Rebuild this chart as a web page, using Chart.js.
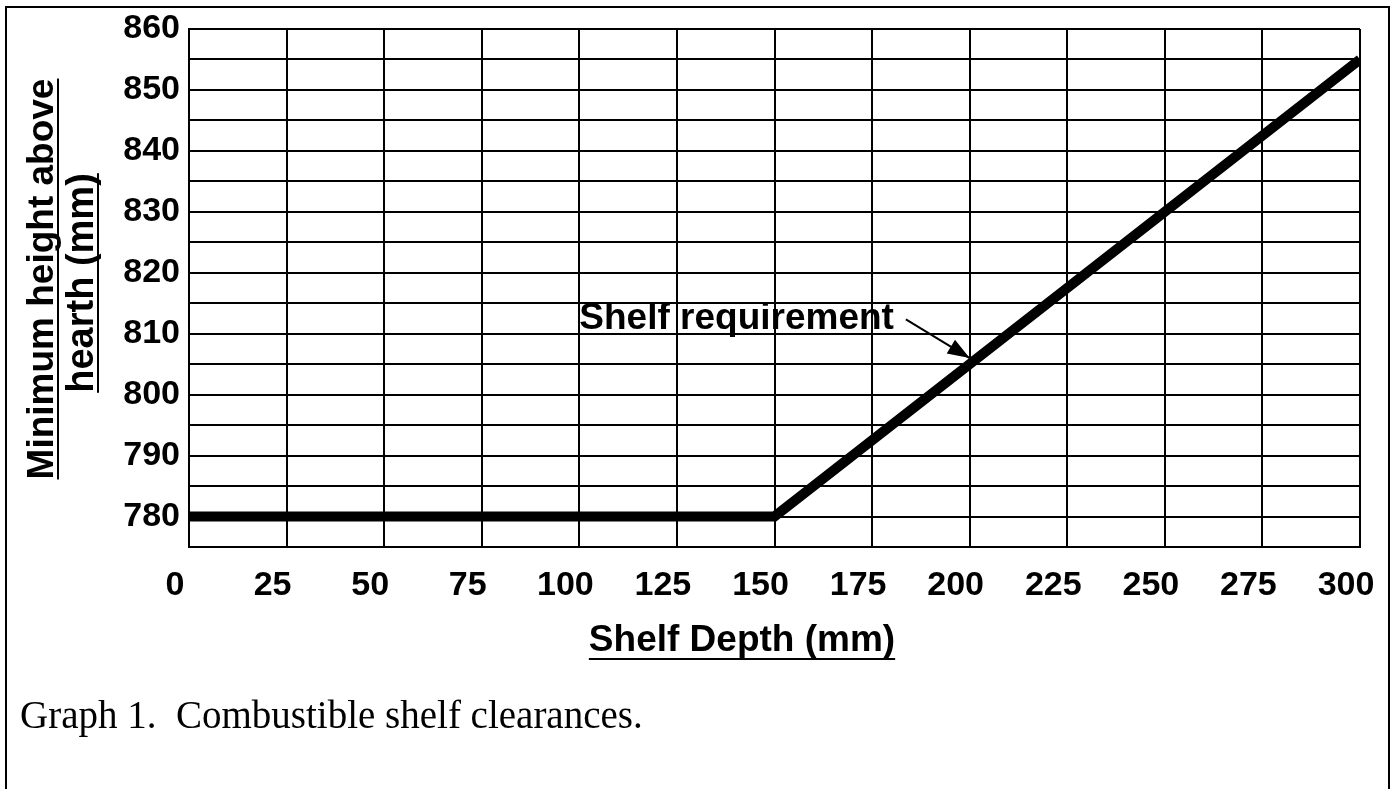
<!DOCTYPE html>
<html>
<head>
<meta charset="utf-8">
<title>Combustible shelf clearances</title>
<script src="https://cdn.jsdelivr.net/npm/chart.js@4.4.1/dist/chart.umd.min.js"></script>
<style>
  html, body { margin: 0; padding: 0; background: #fff; }
  #wrap { width: 1394px; height: 789px; position: relative; }
</style>
</head>
<body>
<div id="wrap"><canvas id="grafico"></canvas></div>
<script>
// datos
const shelfDepth = [0, 150, 300];        // mm
const minHeight  = [780, 780, 855];      // mm
const xTicks = [0, 25, 50, 75, 100, 125, 150, 175, 200, 225, 250, 275, 300];
const yLabels = [780, 790, 800, 810, 820, 830, 840, 850, 860];

const xTitle = 'Shelf Depth (mm)';
const yTitle = ['Minimum height above', 'hearth (mm)'];
const caption = 'Graph 1.  Combustible shelf clearances.';
const noteText = 'Shelf requirement';
const noteAt = { x: 100, y: 810.7 };     // inicio del texto
const arrowTip = { x: 200, y: 806 };     // punta de la flecha

const SANS = '"Liberation Sans", Arial, sans-serif';
const SERIF = '"Liberation Serif", "Times New Roman", serif';

// ========== textos, flecha y marco ==========
const extras = {
    id: 'extras',
    afterDraw(chart) {
        const ctx = chart.ctx;
        const xs = chart.scales.x, ys = chart.scales.y;
        ctx.save();
        ctx.fillStyle = '#000';
        ctx.strokeStyle = '#000';

        // marco exterior
        ctx.lineWidth = 2;
        ctx.beginPath();
        ctx.moveTo(6, 800);
        ctx.lineTo(6, 7);
        ctx.lineTo(1389, 7);
        ctx.lineTo(1389, 800);
        ctx.stroke();

        // título eje x (subrayado)
        ctx.font = 'bold 37px ' + SANS;
        ctx.textAlign = 'center';
        ctx.textBaseline = 'alphabetic';
        const cx = 742;
        ctx.fillText(xTitle, cx, 651);
        let w = ctx.measureText(xTitle).width;
        ctx.fillRect(cx - w / 2, 658, w, 2);

        // título eje y (dos líneas, girado)
        const lines = [{ x: 53, y: 279 }, { x: 93, y: 283 }];
        const sizes = [37, 38];
        yTitle.forEach((t, i) => {
            ctx.save();
            ctx.font = 'bold ' + sizes[i] + 'px ' + SANS;
            ctx.translate(lines[i].x, lines[i].y);
            ctx.rotate(-Math.PI / 2);
            ctx.fillText(t, 0, 0);
            const tw = ctx.measureText(t).width;
            ctx.fillRect(-tw / 2, 4, tw, 2);
            ctx.restore();
        });

        // anotación
        ctx.font = 'bold 37px ' + SANS;
        ctx.textAlign = 'left';
        const tx = xs.getPixelForValue(noteAt.x);
        const ty = ys.getPixelForValue(noteAt.y);
        ctx.fillText(noteText, tx, ty);
        const endX = tx + ctx.measureText(noteText).width + 12;
        const startY = ty - 10;
        const px = xs.getPixelForValue(arrowTip.x);
        const py = ys.getPixelForValue(arrowTip.y);
        ctx.lineWidth = 2;
        ctx.beginPath();
        ctx.moveTo(endX, startY);
        ctx.lineTo(px, py);
        ctx.stroke();
        const ang = Math.atan2(py - startY, px - endX);
        const hl = 22, hw = 8;
        ctx.beginPath();
        ctx.moveTo(px, py);
        ctx.lineTo(px - hl * Math.cos(ang) + hw * Math.sin(ang), py - hl * Math.sin(ang) - hw * Math.cos(ang));
        ctx.lineTo(px - hl * Math.cos(ang) - hw * Math.sin(ang), py - hl * Math.sin(ang) + hw * Math.cos(ang));
        ctx.closePath();
        ctx.fill();

        // pie de figura
        ctx.font = '39px ' + SERIF;
        ctx.fillText(caption, 20, 728);
        ctx.restore();
    }
};

new Chart(document.getElementById('grafico').getContext('2d'), {
    type: 'line',
    data: {
        datasets: [{
            label: 'Shelf requirement',
            data: shelfDepth.map((d, i) => ({ x: d, y: minHeight[i] })),
            borderColor: '#000',
            borderWidth: 10,
            pointRadius: 0,
            fill: false,
            tension: 0
        }]
    },
    options: {
        responsive: true,
        maintainAspectRatio: false,
        animation: false,
        layout: { padding: { left: 0, top: 29, right: 34, bottom: 0 } },
        plugins: {
            legend: { display: false },
            tooltip: { enabled: false }
        },
        scales: {
            x: {
                type: 'linear',
                min: 0,
                max: 300,
                afterBuildTicks: s => { s.ticks = xTicks.map(v => ({ value: v })); },
                afterFit: s => {
                    s.height = 789 - 29 - 518;
                    s.paddingLeft = 0;
                    s.paddingRight = 0;
                },
                ticks: {
                    color: '#000',
                    padding: 18,
                    labelOffset: -14,
                    maxRotation: 0,
                    autoSkip: false,
                    font: { family: SANS, size: 34, weight: 'bold' }
                },
                grid: { color: '#000', lineWidth: 2, drawTicks: false },
                border: { color: '#000', width: 2 }
            },
            y: {
                type: 'linear',
                min: 775,
                max: 860,
                ticks: {
                    stepSize: 5,
                    color: '#000',
                    padding: 9,
                    autoSkip: false,
                    callback: v => yLabels.includes(v) ? String(v) : '',
                    font: { family: SANS, size: 34, weight: 'bold' }
                },
                afterFit: s => {
                    s.width = 189;
                    s.paddingTop = 0;
                    s.paddingBottom = 0;
                },
                grid: { color: '#000', lineWidth: 2, drawTicks: false },
                border: { color: '#000', width: 2 }
            }
        }
    },
    plugins: [extras]
});
</script>
</body>
</html>
